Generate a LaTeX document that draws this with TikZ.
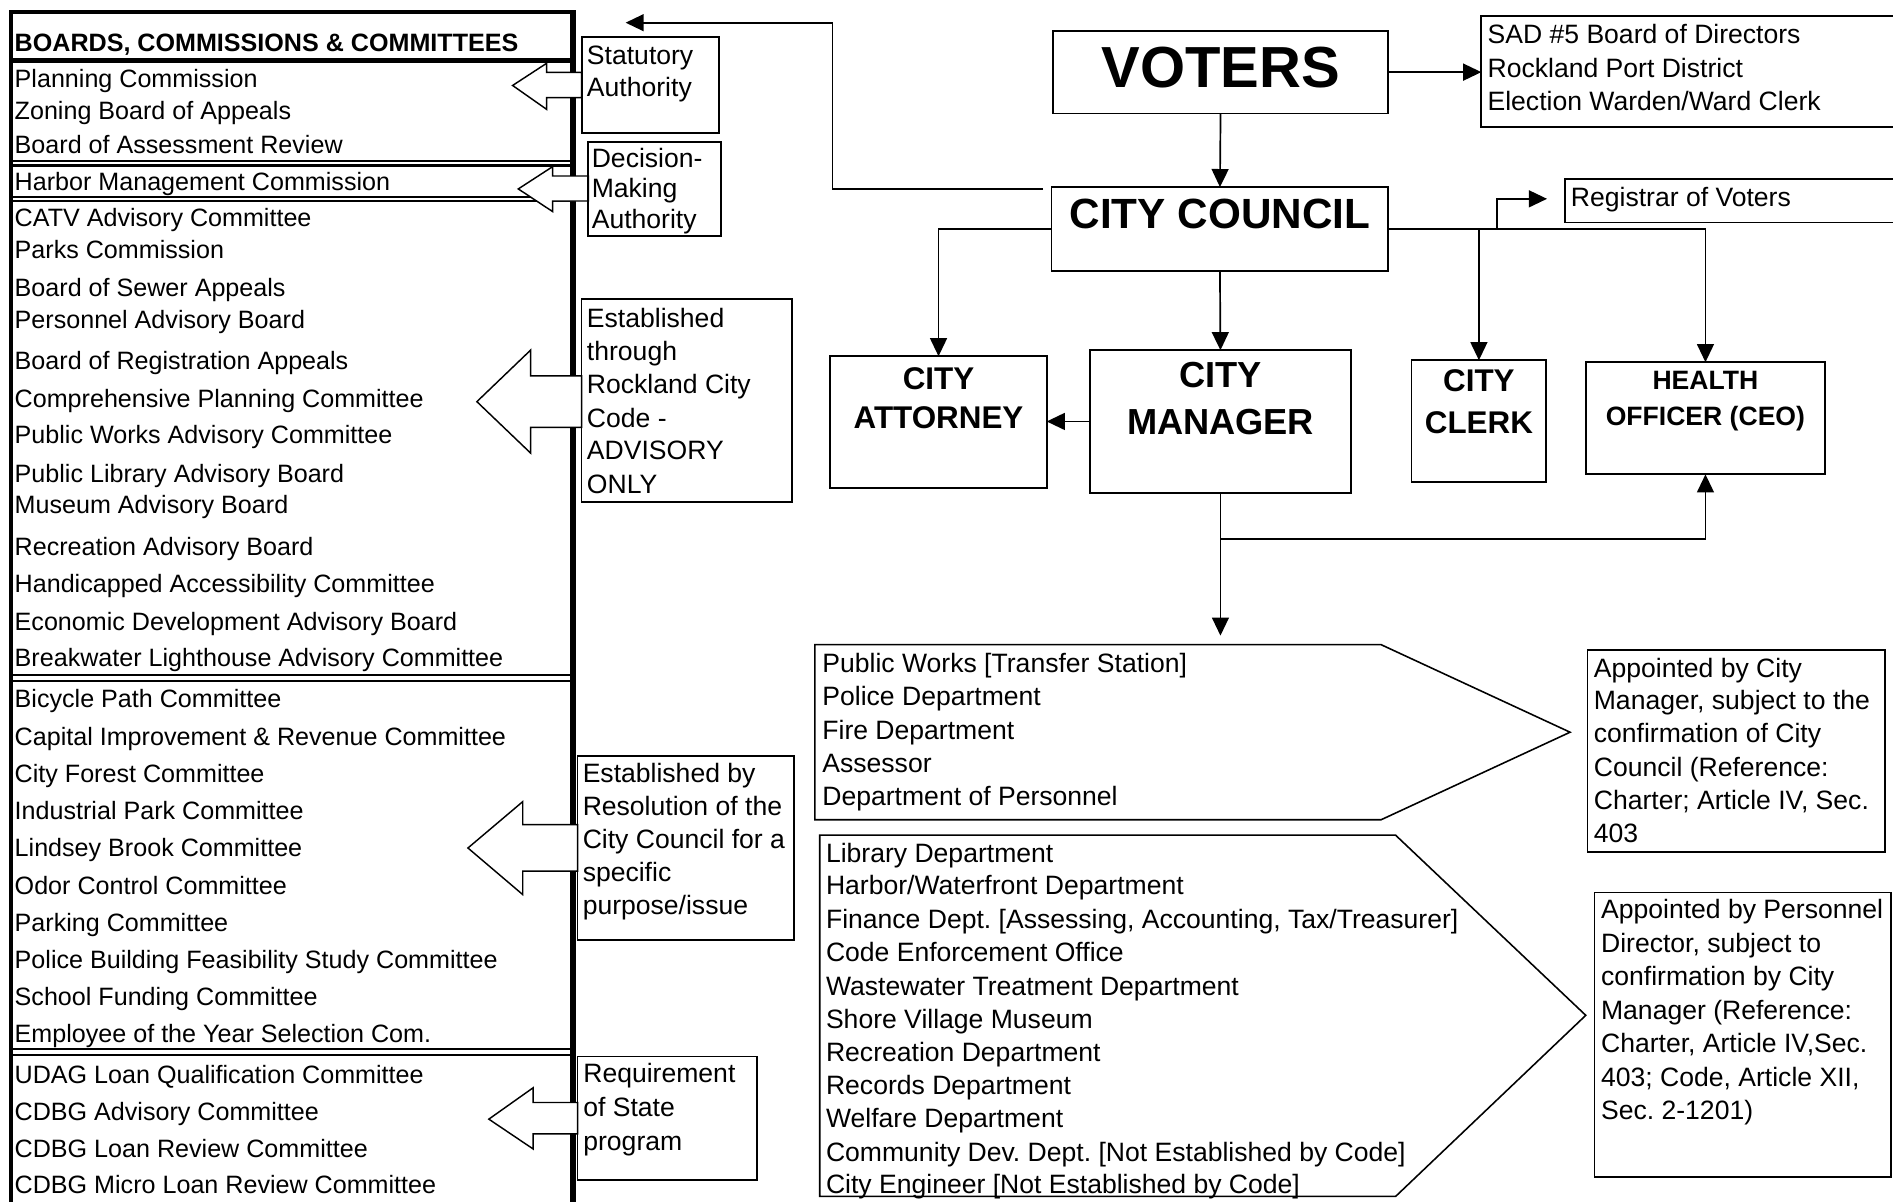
\documentclass[tikz,border=0pt]{standalone}
\usepackage{fontspec}
\setmainfont{Liberation Sans}
\usetikzlibrary{arrows.meta,calc}
\frenchspacing
\begin{document}
\begin{tikzpicture}[x=1pt,y=-1pt,
  lst/.style={font=\fontsize{20.8pt}{25pt}\selectfont, anchor=west, inner sep=0pt, text height=14.9pt, text depth=0pt},
  txt/.style={font=\fontsize{22pt}{26pt}\selectfont, anchor=west, inner sep=0pt, text height=15.75pt, text depth=0pt},
  bx/.style={draw, line width=1.5pt, inner sep=0pt, outer sep=0pt, anchor=north west},
  conn/.style={line width=1.4pt},
  arr/.style={conn, -{Triangle[length=15pt,width=14pt]}},
  blk/.style={draw, fill=white, line width=1.2pt, line join=miter},
  ttl/.style={font=\bfseries\fontsize{#1}{#1}\selectfont, inner sep=0pt, text height=0.716*#1, text depth=0pt, anchor=center},
]
\useasboundingbox (0,0) rectangle (1568,995);
\clip (0,0) rectangle (1568,995);

% ---------- left list box ----------
\draw[line width=2.8pt] (9.1,8.3) -- (9.1,1000);
\draw[line width=3.3pt] (7.7,9.9) -- (476.8,9.9);
\draw[line width=4.5pt] (474.6,8.3) -- (474.6,1000);
\draw[line width=4pt] (9.1,50) -- (474.6,50);
\foreach \yy in {133.1,137.1,163.4,166.8,558.8,563.8,868.6,873.6}
  \draw[line width=1.7pt] (9.1,\yy) -- (474.6,\yy);

\node[lst, font=\bfseries\fontsize{20.8pt}{25pt}\selectfont] (hdr) at (12,35.6) {BOARDS, COMMISSIONS \& COMMITTEES};
\foreach \yy/\tt [count=\i] in {
  65.4/{Planning Commission},
  91.9/{Zoning Board of Appeals},
  119.3/{Board of Assessment Review},
  150.5/{Harbor Management Commission},
  180/{CATV Advisory Committee},
  207/{Parks Commission},
  238/{Board of Sewer Appeals},
  265/{Personnel Advisory Board},
  299/{Board of Registration Appeals},
  330/{Comprehensive Planning Committee},
  360.3/{Public Works Advisory Committee},
  392/{Public Library Advisory Board},
  418.3/{Museum Advisory Board},
  453/{Recreation Advisory Board},
  483.7/{Handicapped Accessibility Committee},
  514.9/{Economic Development Advisory Board},
  544.5/{Breakwater Lighthouse Advisory Committee},
  578.9/{Bicycle Path Committee},
  610.4/{Capital Improvement \& Revenue Committee},
  640.7/{City Forest Committee},
  671/{Industrial Park Committee},
  702.2/{Lindsey Brook Committee},
  733.3/{Odor Control Committee},
  764/{Parking Committee},
  794.8/{Police Building Feasibility Study Committee},
  825.1/{School Funding Committee},
  855.9/{Employee of the Year Selection Com.},
  889.9/{UDAG Loan Qualification Committee},
  920.6/{CDBG Advisory Committee},
  951/{CDBG Loan Review Committee},
  981.4/{CDBG Micro Loan Review Committee}}
  \node[lst] (b\i) at (12,\yy) {\tt};

% ---------- block arrows ----------
\draw[blk] (424.6,70.8) -- (452.8,52.4) -- (452.8,59.9) -- (481.8,59.9) -- (481.8,80.9) -- (452.8,80.9) -- (452.8,90.6) -- cycle;
\draw[blk] (429.3,156.5) -- (457.8,138) -- (457.8,145.8) -- (487.3,145.8) -- (487.3,166.5) -- (457.8,166.5) -- (457.8,175.3) -- cycle;
\draw[blk] (395,332.7) -- (439.5,290) -- (439.5,311.4) -- (481.7,311.4) -- (481.7,354) -- (439.5,354) -- (439.5,375.3) -- cycle;
\draw[blk] (387.6,702.4) -- (433,664) -- (433,683) -- (478.4,683) -- (478.4,721.5) -- (433,721.5) -- (433,741) -- cycle;
\draw[blk] (404.9,927) -- (441.6,901) -- (441.6,913.2) -- (478.4,913.2) -- (478.4,939.2) -- (441.6,939.2) -- (441.6,951.7) -- cycle;

% ---------- side text boxes ----------
\node[bx, minimum width=114pt, minimum height=80pt] (stat) at (481.8,30.4) {};
\node[txt] (stat1) at (486,45.5) {Statutory};
\node[txt] (stat2) at (486,72) {Authority};

\node[bx, minimum width=109.7pt, minimum height=78.2pt] (dec) at (487.3,117.3) {};
\node[txt] (dec1) at (490,130.5) {Decision-};
\node[txt] (dec2) at (490,156) {Making};
\node[txt] (dec3) at (490,181.5) {Authority};

\node[bx, minimum width=174.6pt, minimum height=167.5pt] (thr) at (481.7,248) {};
\foreach \yy/\tt [count=\i] in {263/{Established},291/{through},318/{Rockland City},346/{Code -},373/{ADVISORY},401/{ONLY}}
  \node[txt] (thr\i) at (486,\yy) {\tt};

\node[bx, minimum width=179.6pt, minimum height=152.8pt] (res) at (478.4,626) {};
\foreach \yy/\tt [count=\i] in {640/{Established by},668/{Resolution of the},695/{City Council for a},722/{specific},750/{purpose/issue}}
  \node[txt] (res\i) at (482.5,\yy) {\tt};

\node[bx, minimum width=148.3pt, minimum height=102.6pt] (req) at (478.4,875.1) {};
\foreach \yy/\tt [count=\i] in {889/{Requirement},917/{of State},945/{program}}
  \node[txt] (req\i) at (483,\yy) {\tt};

% ---------- top chain ----------
\node[bx, minimum width=278pt, minimum height=68.5pt] (voters) at (872,25.5) {};
\node[ttl=48pt] (votersT) at (1011,55.4) {VOTERS};

\node[bx, minimum width=400pt, minimum height=91.5pt] (sad) at (1227,13.4) {};
\node[txt] (sad1) at (1232,28.5) {SAD \#5 Board of Directors};
\node[txt] (sad2) at (1232,56) {Rockland Port District};
\node[txt] (sad3) at (1232,84) {Election Warden/Ward Clerk};

\node[bx, minimum width=279pt, minimum height=69.2pt] (council) at (871,155) {};
\node[ttl=35pt] (councilT) at (1010.5,176.6) {CITY COUNCIL};

\node[bx, minimum width=300pt, minimum height=35.9pt] (registrar) at (1296,148.4) {};
\node[txt] (regT) at (1301,162.8) {Registrar of Voters};

\node[bx, minimum width=179.2pt, minimum height=108.9pt] (attorney) at (687.8,295.1) {};
\node[ttl=26pt] (att1) at (777.4,313.4) {CITY};
\node[ttl=26pt] (att2) at (777.4,346) {ATTORNEY};

\node[bx, minimum width=216.2pt, minimum height=118pt] (manager) at (902.8,290.1) {};
\node[ttl=30pt] (man1) at (1011,310.2) {CITY};
\node[ttl=30pt] (man2) at (1011,349.5) {MANAGER};

\node[bx, minimum width=111.6pt, minimum height=100.6pt] (clerk) at (1169.2,298.4) {};
\node[ttl=26pt] (clk1) at (1225,315) {CITY};
\node[ttl=26pt] (clk2) at (1225,350) {CLERK};

\node[bx, minimum width=197.7pt, minimum height=92.9pt] (health) at (1313.8,300) {};
\node[ttl=22pt] (hea1) at (1412.6,315) {HEALTH};
\node[ttl=22pt] (hea2) at (1412.6,344.3) {OFFICER (CEO)};

% ---------- connectors ----------
\draw[arr] (voters.south) -- (council.north);
\draw[arr] (voters.east) -- (voters.east -| sad.west);
\coordinate (cstart) at (864,156.4);
\coordinate (tturn) at (689.5,18.8);
\coordinate (ttip) at (518.2,18.8);
\draw[arr] (cstart) -| (tturn) -- (ttip);
\draw[arr] (council.west) -| (attorney.north);
\draw[arr] (council.south) -- (manager.north);
\draw[arr] (council.east) -| (health.north);
\draw[arr] (council.east -| clerk.north) -- (clerk.north);
\coordinate (rj) at (1239.8,189.5);
\coordinate (rtip) at (1281.4,164.7);
\draw[arr] (rj) |- (rtip);
\draw[arr] (manager.west) -- (manager.west -| attorney.east);
\coordinate (mj) at (1010.9,446.6);
\coordinate (dtip) at (1010.9,526.5);
\draw[conn] (manager.south) -- (mj);
\draw[arr] (mj) -| (health.south);
\draw[arr] (mj) -- (dtip);

% ---------- departments ----------
\draw[line width=1.3pt, line join=miter] (675,534) -- (1144,534) -- (1300.5,606.5) -- (1144,679) -- (675,679) -- cycle;
\foreach \yy/\tt [count=\i] in {549.3/{Public Works [Transfer Station]},576.3/{Police Department},604.8/{Fire Department},631.9/{Assessor},659.3/{Department of Personnel}}
  \node[txt] (da\i) at (681,\yy) {\tt};

\draw[line width=1.3pt, line join=miter] (679,691.8) -- (1156,691.8) -- (1313.5,841) -- (1156,991) -- (679,991) -- cycle;
\foreach \yy/\tt [count=\i] in {
  706.7/{Library Department},
  733.3/{Harbor/Waterfront Department},
  761.4/{Finance Dept. [Assessing, Accounting, Tax/Treasurer]},
  788.9/{Code Enforcement Office},
  816.6/{Wastewater Treatment Department},
  843.7/{Shore Village Museum},
  871.5/{Recreation Department},
  898.5/{Records Department},
  926.2/{Welfare Department},
  954/{Community Dev. Dept. [Not Established by Code]},
  980.7/{City Engineer [Not Established by Code]}}
  \node[txt] (db\i) at (684,\yy) {\tt};

\node[bx, minimum width=246.6pt, minimum height=167.8pt] (app1) at (1315,538.2) {};
\foreach \yy/\tt [count=\i] in {553/{Appointed by City},580/{Manager, subject to the},607.4/{confirmation of City},635.5/{Council (Reference:},663/{Charter; Article IV, Sec.},690/{403}}
  \node[txt] (pa\i) at (1320,\yy) {\tt};

\node[bx, minimum width=245.2pt, minimum height=235.7pt] (app2) at (1320.8,739.3) {};
\foreach \yy/\tt [count=\i] in {753/{Appointed by Personnel},780.8/{Director, subject to},808.5/{confirmation by City},836.2/{Manager (Reference:},864/{Charter, Article IV,Sec.},891.8/{403; Code, Article XII,},919.6/{Sec. 2-1201)}}
  \node[txt] (pb\i) at (1326,\yy) {\tt};
\end{tikzpicture}
\end{document}
